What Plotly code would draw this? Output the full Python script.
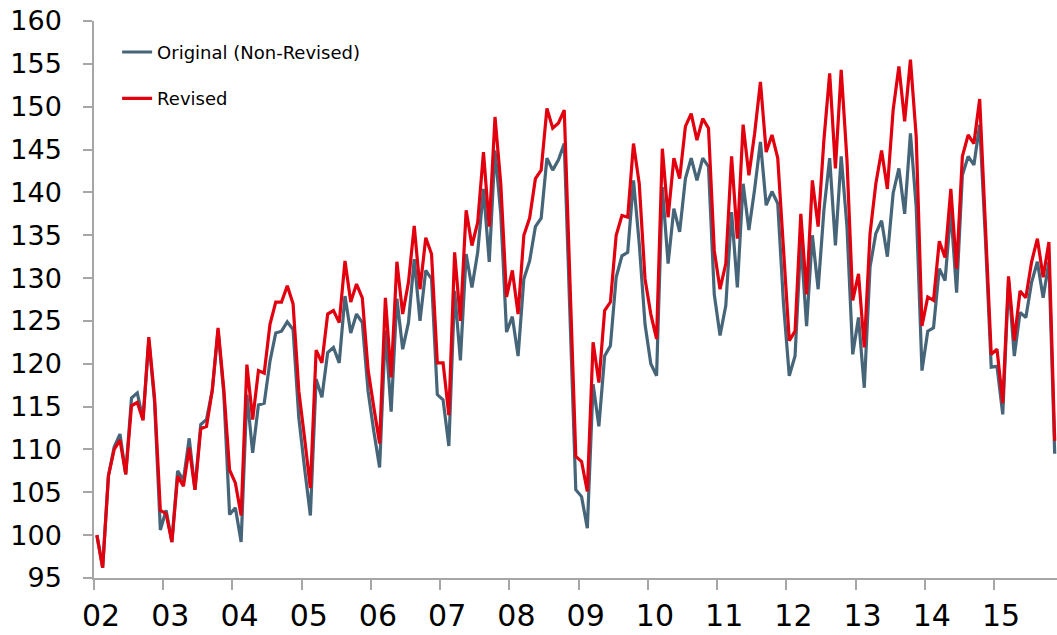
import numpy as np
import plotly.graph_objects as go

# Monthly index values, Jan 2002 .. Nov 2015
revised = [
    100.0, 96.2, 106.9, 110.0, 111.1, 107.1, 115.1, 115.5, 113.4, 123.1, 116.0, 102.9,
    102.5, 99.2, 106.9, 105.7, 110.2, 105.3, 112.4, 112.7, 116.9, 124.2, 117.0, 107.6,
    106.1, 102.3, 119.9, 113.5, 119.2, 118.9, 124.6, 127.2, 127.2, 129.1, 127.0, 116.8,
    111.3, 105.5, 121.6, 120.1, 125.8, 126.2, 124.8, 132.0, 127.2, 129.3, 127.7, 119.3,
    114.9, 110.7, 127.7, 118.4, 131.9, 125.8, 129.5, 136.1, 128.7, 134.7, 132.8, 120.1,
    120.1, 114.0, 133.0, 125.0, 137.9, 133.8, 136.5, 144.7, 136.0, 148.8, 141.0, 127.8,
    130.9, 125.8, 135.0, 137.0, 141.6, 142.6, 149.8, 147.5, 148.1, 149.6, 129.4, 109.2,
    108.6, 105.1, 122.5, 117.8, 126.2, 127.2, 135.0, 137.3, 137.1, 145.7, 141.0, 129.9,
    125.8, 122.9, 145.1, 137.1, 144.0, 141.6, 147.7, 149.2, 146.1, 148.6, 147.5, 133.2,
    128.7, 131.7, 144.2, 134.6, 147.9, 142.0, 146.9, 152.9, 144.7, 146.7, 144.0, 133.2,
    122.7, 123.8, 137.5, 128.1, 141.4, 136.0, 146.1, 153.9, 142.8, 154.3, 143.8, 127.4,
    130.5, 121.9, 135.2, 141.0, 144.9, 140.4, 149.6, 154.7, 148.3, 155.5, 146.5, 124.4,
    127.8, 127.4, 134.3, 132.4, 140.4, 131.1, 144.2, 146.7, 145.7, 150.9, 136.0, 121.1,
    121.7, 115.4, 130.2, 122.7, 128.5, 127.7, 131.9, 134.6, 130.1, 134.2, 111.0,
]
original = [
    100.0, 96.2, 106.9, 110.3, 111.8, 107.1, 116.0, 116.6, 113.5, 122.8, 115.5, 100.6,
    102.9, 99.2, 107.5, 106.4, 111.3, 105.3, 112.9, 113.5, 116.9, 123.9, 116.5, 102.4,
    103.2, 99.2, 116.4, 109.6, 115.2, 115.4, 120.3, 123.6, 123.8, 124.9, 124.0, 113.7,
    107.8, 102.3, 118.2, 116.1, 121.3, 121.9, 120.1, 127.9, 123.6, 125.8, 124.8, 116.8,
    112.1, 107.9, 123.9, 114.4, 127.6, 121.7, 124.8, 132.2, 125.0, 130.9, 129.9, 116.4,
    115.8, 110.4, 128.5, 120.4, 132.8, 128.9, 133.0, 140.4, 131.9, 144.9, 137.5, 123.7,
    125.5, 120.9, 129.9, 132.0, 136.0, 137.0, 144.0, 142.6, 143.8, 145.7, 125.5, 105.3,
    104.5, 100.8, 117.6, 112.7, 120.9, 122.1, 130.1, 132.6, 133.0, 141.4, 134.0, 124.6,
    120.0, 118.6, 140.6, 131.7, 138.1, 135.4, 141.6, 144.0, 141.4, 144.0, 143.0, 128.1,
    123.3, 126.8, 137.7, 128.9, 141.0, 135.6, 140.4, 145.9, 138.5, 140.1, 138.7, 127.0,
    118.6, 120.9, 134.4, 124.4, 135.0, 128.7, 137.9, 144.0, 133.8, 144.2, 136.0, 121.1,
    125.4, 117.2, 131.3, 135.2, 136.7, 132.5, 139.9, 142.8, 137.5, 146.9, 138.3, 119.2,
    123.8, 124.2, 131.1, 129.7, 137.9, 128.3, 142.0, 144.2, 143.2, 147.9, 134.5, 119.6,
    119.7, 114.1, 129.7, 120.9, 126.0, 125.4, 129.5, 131.9, 127.7, 131.9, 109.5,
]
year_labels = ["02", "03", "04", "05", "06", "07", "08", "09", "10", "11", "12", "13", "14", "15"]

months = np.arange(len(revised)) + 0.5          # mid-month positions
year_ticks = [12 * i for i in range(len(year_labels))]

BLUE = "#466579"
RED = "#E2000F"

fig = go.Figure()
fig.add_trace(go.Scatter(
    x=months, y=original, mode="lines", name="Original (Non-Revised)",
    line=dict(color=BLUE, width=3.2), legendgroup="a",
))
fig.add_trace(go.Scatter(
    x=months, y=revised, mode="lines", name="Revised",
    line=dict(color=RED, width=3.2), legendgroup="b",
))

fig.update_layout(
    width=1057, height=635,
    margin=dict(l=94, r=0, t=21, b=57),
    paper_bgcolor="white", plot_bgcolor="white",
    font=dict(family="DejaVu Sans", color="black"),
    showlegend=True,
    legend=dict(
        x=0.024, y=0.977, xanchor="left", yanchor="top",
        bgcolor="rgba(0,0,0,0)", font=dict(size=18, color="black"),
        tracegroupgap=20, itemwidth=30,
    ),
    xaxis=dict(
        range=[0, 166.9], tickmode="array", tickvals=year_ticks, ticktext=year_labels,
        showgrid=False, zeroline=False, showline=True, linecolor="#A6A6A6", linewidth=1.5,
        ticks="outside", ticklen=10, tickcolor="#A6A6A6", tickwidth=1.5,
        tickfont=dict(size=30, color="black"), ticklabelshift=7, ticklabelstandoff=0,
        ticklabeloverflow="allow",
    ),
    yaxis=dict(
        range=[95, 160], tickmode="linear", tick0=95, dtick=5,
        showgrid=False, zeroline=False, showline=True, linecolor="#A6A6A6", linewidth=1.5,
        ticks="outside", ticklen=9, tickcolor="#A6A6A6", tickwidth=1.5,
        tickfont=dict(size=27, color="black"), ticklabelstandoff=16,
        ticklabeloverflow="allow",
    ),
)

fig.write_html(
    "out.html",
    config={"displayModeBar": False},
    post_script="document.body.style.margin='0';document.body.style.overflow='hidden';",
)
